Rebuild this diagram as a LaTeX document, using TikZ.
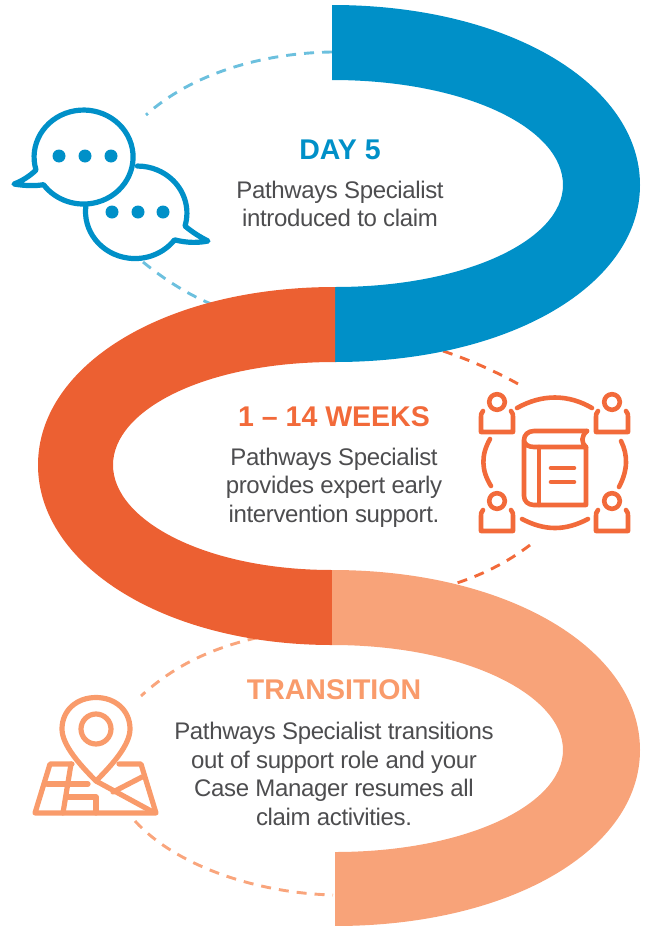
\documentclass[tikz,border=0pt]{standalone}
\usepackage{fontspec}
\setmainfont{Liberation Sans}
\newfontfamily\tightfont[LetterSpace=-1.5]{Liberation Sans}
\definecolor{cblue}{HTML}{0090C8}
\definecolor{corange}{HTML}{EC6032}
\definecolor{cpeach}{HTML}{F8A379}
\definecolor{dblue}{HTML}{6CC0DE}
\definecolor{dorange}{HTML}{F26A3A}
\definecolor{dpeach}{HTML}{F9A57C}
\definecolor{hpeach}{HTML}{F99B6B}
\definecolor{bodytext}{HTML}{4D4D4F}
\tikzset{
  bodytxt/.style={text=bodytext,align=center,font=\tightfont\fontsize{24}{28.7}\selectfont,inner sep=0pt},
  headtxt/.style={font=\fontsize{28.5}{32}\selectfont\bfseries,inner sep=0pt},
  dashline/.style={line width=2.9pt,dash pattern=on 10pt off 8pt},
  icon/.style={line width=5.2pt,line cap=round,line join=round},
}
\begin{document}
\begin{tikzpicture}[x=1pt,y=-1pt]
\useasboundingbox (0,0) rectangle (648,926);
% dashed arcs
\draw[dashline,dblue] (332,52) .. controls (260,53) and (190,75) .. (146,115);
\draw[dashline,dblue] (143,262) .. controls (165,280) and (195,300) .. (228,310);
\draw[dashline,dorange] (443,351) .. controls (470,360) and (497,372) .. (520,385);
\draw[dashline,dorange] (530,545) .. controls (508,562) and (478,578) .. (440,588);
\draw[dashline,dpeach] (275,634) .. controls (215,645) and (175,665) .. (141,696);
\draw[dashline,dpeach] (135,821) .. controls (175,865) and (255,893) .. (333,895);
% bands
\fill[cblue] (332,5) .. controls (510,5) and (640,85) .. (640,185)
  .. controls (640,285) and (510,362) .. (335,362) -- (335,287)
  .. controls (465,287) and (563,240) .. (563,185)
  .. controls (563,128) and (465,80) .. (332,80) -- cycle;
\fill[corange] (335,287) .. controls (165,287) and (38,365) .. (38,465)
  .. controls (38,565) and (165,645) .. (332,645) -- (332,570)
  .. controls (205,570) and (113,520) .. (113,465)
  .. controls (113,410) and (205,362) .. (335,362) -- cycle;
\fill[cpeach] (332,570) .. controls (510,570) and (640,650) .. (640,750)
  .. controls (640,850) and (510,926) .. (335,926) -- (335,852)
  .. controls (465,852) and (563,805) .. (563,750)
  .. controls (563,695) and (465,645) .. (332,645) -- cycle;
% texts
\node[headtxt,text=cblue] (h1) at (340,150) {DAY 5};
\node[bodytxt] (t1) at (340,204) {Pathways Specialist\\introduced to claim};
\node[headtxt,text=dorange] (h2) at (334,417) {1 – 14 WEEKS};
\node[bodytxt] (t2) at (334,487.5) {Pathways Specialist\\provides expert early\\intervention support.};
\node[headtxt,text=hpeach] (h3) at (334,690) {TRANSITION};
\node[bodytxt] (t3) at (334,774) {Pathways Specialist transitions\\out of support role and your\\Case Manager resumes all\\claim activities.};
% chat icon
\begin{scope}[icon,cblue]
\draw (36,170) arc[start angle=196,end angle=-144,x radius=49.5pt,y radius=47pt]
  .. controls (36,186) and (25,186) .. (14,184) .. controls (22,181) and (30,176) .. (36,170) -- cycle;
\draw (86,205) arc[start angle=172,end angle=323,x radius=49.5pt,y radius=47pt]
  .. controls (187,243) and (198,243) .. (208,241) .. controls (200,237) and (192,232) .. (185,226)
  arc[start angle=-16,end angle=90,x radius=49.5pt,y radius=47pt];
\foreach \x/\y in {59/156,85/156,111/156,112/212,138/212,163/212}
  \fill (\x,\y) circle[radius=6.5pt];
\end{scope}
% book icon
\begin{scope}[icon,dorange,line width=4.6pt]
\draw (517,408) .. controls (542,394) and (568,394) .. (592,408);
\draw (522,519) .. controls (545,531) and (565,531) .. (588,519);
\draw (490,439) .. controls (481,455) and (481,470) .. (491,486);
\draw (621,441) .. controls (628,455) and (628,470) .. (619,487);
\foreach \x/\y in {497/402,612/402,497/501,612/501}{
  \draw (\x,\y) circle[radius=7.8pt];
  \draw[shift={(\x,\y)}] (-14,9) .. controls (-16,11) and (-16,13) .. (-16,15) -- (-16,30) -- (16,30) -- (16,15) .. controls (16,13) and (16,11) .. (14,9);
}
\draw (587,431) -- (534,431) .. controls (528,431) and (524,435) .. (524,440)
  -- (524,496) .. controls (524,501) and (528,505) .. (534,505) -- (586,505) -- (586,447) -- (534,447)
  .. controls (528,447) and (524,444) .. (524,440);
\draw (587,431) .. controls (581,436) and (581,443) .. (586,447);
\draw (539,447) -- (539,505);
\draw (551,468) -- (574,468);
\draw (551,482) -- (574,482);
\end{scope}
% map icon
\begin{scope}[icon,hpeach]
\draw (96,781) .. controls (80,765) and (62,745) .. (62,729)
  .. controls (62,710) and (77,697.5) .. (96,697.5)
  .. controls (115,697.5) and (130,710) .. (130,729)
  .. controls (130,745) and (112,765) .. (96,781) -- cycle;
\draw (96,729) circle[radius=15pt];
\draw (72,764) -- (50,764) -- (35,813) -- (156,813) -- (141,764) -- (119,764);
\draw (47,784) -- (88,784);
\draw (71,764) -- (63,813);
\draw (68,797) -- (96,797) -- (96,813);
\draw (96,781) -- (153,812);
\draw (113,792) -- (142,777);
\end{scope}
\end{tikzpicture}
\end{document}
